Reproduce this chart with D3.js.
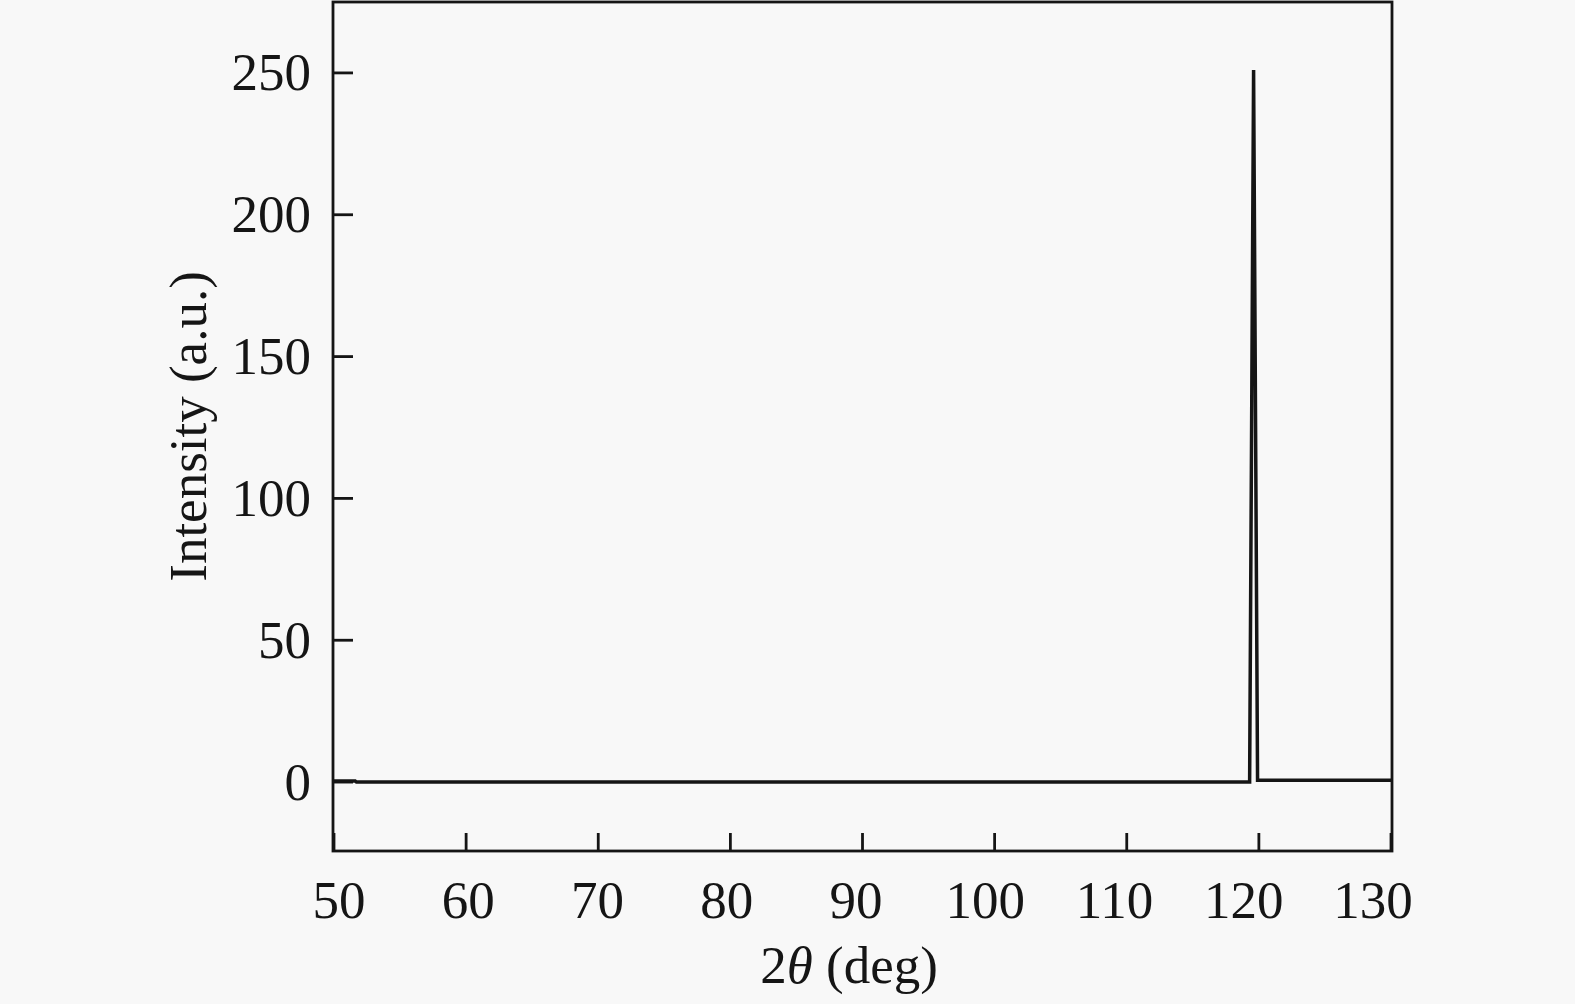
<!DOCTYPE html>
<html>
<head>
<meta charset="utf-8">
<script src="https://cdn.jsdelivr.net/npm/d3@7"></script>
<style>
  html, body { margin: 0; padding: 0; background: #f8f8f8; }
  svg { display: block; }
</style>
</head>
<body>
<div id="chart"></div>
<script>
// values
var twoTheta  = [50, 51.6, 51.7, 119.3, 119.6, 119.9, 120.0, 130];
var intensity = [0.4, 0.4, 0, 0, 251, 0.6, 0.6, 0.6];
var xTicks = [50, 60, 70, 80, 90, 100, 110, 120, 130];
var yTicks = [0, 50, 100, 150, 200, 250];

var width = 1575, height = 1004;
// plot frame edges (note: "top" is reserved on window, so use these names)
var plotL = 333, plotR = 1392, plotT = 2, plotB = 851;
var font = "'Liberation Serif', 'Times New Roman', serif";

var svg = d3.select("#chart").append("svg")
    .attr("width", width)
    .attr("height", height);

var x = d3.scaleLinear().domain([50, 130]).range([plotL + 1, plotR - 1]);
// labels sit slightly closer together than the ticks in the original
var xLab = d3.scaleLinear().domain([50, 130]).range([339, 1373]);
var y = d3.scaleLinear().domain([-24.3, 275]).range([plotB, plotT]);

var ink = "#151515";

// frame
svg.append("rect")
    .attr("x", plotL).attr("y", plotT)
    .attr("width", plotR - plotL).attr("height", plotB - plotT)
    .attr("fill", "none").attr("stroke", ink).attr("stroke-width", 2.8);

// x ticks (inward)
svg.append("g").selectAll("line")
    .data(xTicks)
    .enter().append("line")
    .attr("x1", function (d) { return x(d) }).attr("x2", function (d) { return x(d) })
    .attr("y1", plotB).attr("y2", plotB - 18)
    .attr("stroke", ink).attr("stroke-width", 2.8);

svg.append("g").selectAll("text")
    .data(xTicks)
    .enter().append("text")
    .attr("x", function (d) { return xLab(d) })
    .attr("y", 918)
    .attr("text-anchor", "middle")
    .style("font-family", font).style("font-size", "53px").attr("fill", ink)
    .text(function (d) { return d });

// y ticks (inward)
svg.append("g").selectAll("line")
    .data(yTicks)
    .enter().append("line")
    .attr("x1", plotL).attr("x2", plotL + 20)
    .attr("y1", function (d) { return y(d) }).attr("y2", function (d) { return y(d) })
    .attr("stroke", ink).attr("stroke-width", 2.8);

svg.append("g").selectAll("text")
    .data(yTicks)
    .enter().append("text")
    .attr("x", 311)
    .attr("y", function (d) { return y(d) })
    .attr("dy", "0.33em")
    .attr("text-anchor", "end")
    .style("font-family", font).style("font-size", "53px").attr("fill", ink)
    .text(function (d) { return d });

// data line
var pts = twoTheta.map(function (t, i) { return [t, intensity[i]] });
var line = d3.line()
    .x(function (d) { return x(d[0]) })
    .y(function (d) { return y(d[1]) });

svg.append("path")
    .datum(pts)
    .attr("d", line)
    .attr("fill", "none")
    .attr("stroke", ink)
    .attr("stroke-width", 3.5)
    .attr("stroke-linejoin", "miter");

// axis titles
var xt = svg.append("text")
    .attr("x", 849).attr("y", 983)
    .attr("text-anchor", "middle")
    .style("font-family", font).style("font-size", "53px").attr("fill", ink);
xt.append("tspan").text("2");
xt.append("tspan").style("font-style", "italic").text("θ");
xt.append("tspan").text(" (deg)");

svg.append("text")
    .attr("transform", "translate(206," + ((plotT + plotB) / 2) + ") rotate(-90)")
    .attr("text-anchor", "middle")
    .style("font-family", font).style("font-size", "53px").attr("fill", ink)
    .text("Intensity (a.u.)");
</script>
</body>
</html>
